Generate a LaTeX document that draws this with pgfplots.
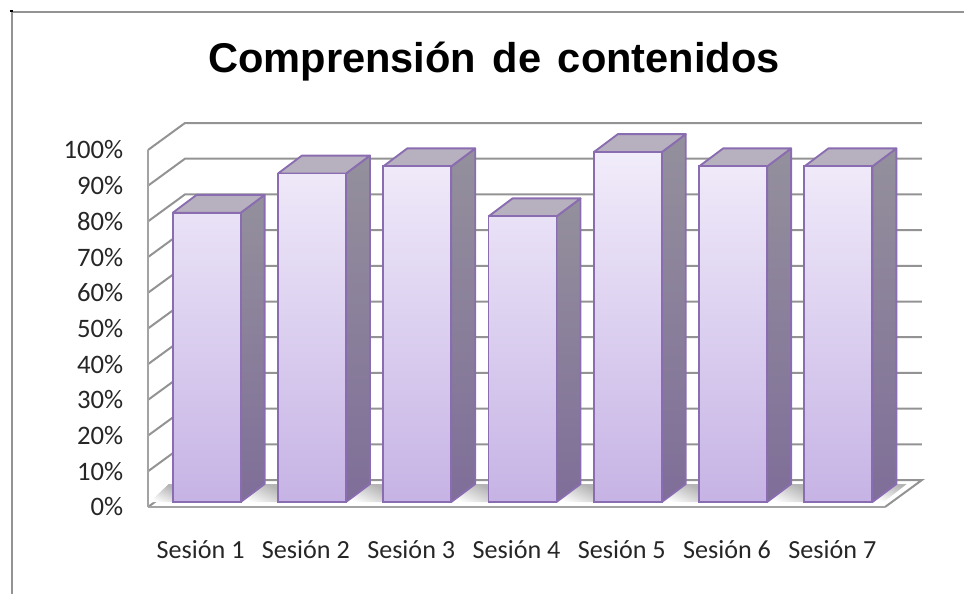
\documentclass[border=0pt]{standalone}
\usepackage{fontspec}
\setmainfont{Carlito}
\newfontfamily\titlefont{Liberation Sans}
\usepackage{pgfplots}
\pgfplotsset{compat=1.18}

\definecolor{wall}{HTML}{939393}
\definecolor{base}{HTML}{A3A3A3}
\definecolor{edge}{HTML}{8A6DB0}
\definecolor{fronttop}{HTML}{F1ECFA}
\definecolor{frontbot}{HTML}{C6B3E5}
\definecolor{sidetop}{HTML}{94909C}
\definecolor{sidebot}{HTML}{7F6E99}
\definecolor{topface}{HTML}{B7B0BE}
\definecolor{shadow}{HTML}{B4B4B4}

% 1 px of the reference = 0.75pt, 1 category = 105.3 px, 1% = 3.57 px
\pgfplotsset{
  chart/.style={
    scale only axis, width=552.75pt, height=267.75pt,
    xmin=0.5, xmax=7.5, ymin=0, ymax=100,
    clip=false,
  },
}

% side and top face of one bar: category, value
\newcommand{\barfaces}[2]{%
  \pgfmathsetmacro\xr{#1+0.323}%
  \pgfmathsetmacro\xl{#1-0.323}%
  \pgfmathsetmacro\xrb{\xr+0.228}%
  \pgfmathsetmacro\xlb{\xl+0.228}%
  \pgfmathsetmacro\yt{#2+5.04}%
  \addplot[draw=edge, line width=1.4pt, line join=round, top color=sidetop, bottom color=sidebot]
    coordinates {(\xr,0) (\xrb,5.04) (\xrb,\yt) (\xr,#2) (\xr,0)};
  \addplot[draw=edge, line width=1.4pt, line join=round, fill=topface]
    coordinates {(\xl,#2) (\xlb,\yt) (\xrb,\yt) (\xr,#2) (\xl,#2)};
}

% floor shadow to the right of a bar: category
\newcommand{\floorshadow}[1]{%
  \pgfmathsetmacro\xr{#1+0.323}%
  \pgfmathsetmacro\xrb{\xr+0.228}%
  \pgfmathsetmacro\xn{#1+1-0.323}%
  \addplot[draw=none, top color=shadow, bottom color=white, shading angle=-25]
    coordinates {(\xr,0) (\xrb,5.04) (\xn,5.04) (\xn,0) (\xr,0)};
}

\begin{document}
\begin{tikzpicture}
\path[use as bounding box] (-111pt,-65.25pt) rectangle ++(723pt,445.5pt);

\begin{axis}[
  chart,
  axis line style={draw=none},
  tick style={draw=none},
  axis x line*=bottom,
  axis y line*=left,
  title={\titlefont\bfseries Comprensión\hspace{0.12em} de\hspace{0.12em} contenidos},
  title style={at={(rel axis cs:0.4695,1.226)}, anchor=center, font=\fontsize{31.2}{34}\selectfont},
  xtick={1,2,3,4,5,6,7},
  xticklabels={Sesión 1,Sesión 2,Sesión 3,Sesión 4,Sesión 5,Sesión 6,Sesión 7},
  xticklabel style={yshift=-21.5pt, text=black!85, font=\fontsize{19.6}{22}\selectfont},
  ytick={0,10,...,100},
  yticklabel={\pgfmathprintnumber{\tick}\%},
  /pgf/number format/assume math mode=true,
  yticklabel style={xshift=-15pt, text=black!85, font=\fontsize{20}{22}\selectfont},
]
% walls
\pgfplotsinvokeforeach{10,20,...,100}{
  \pgfmathsetmacro\yb{#1+7.56}
  \addplot[wall, line width=1.5pt] coordinates {(0.5,#1) (0.851,\yb) (7.851,\yb)};
}
\addplot[wall, line width=1.5pt] coordinates {(7.5,0) (7.851,7.56) (0.851,7.56) (0.5,0)};
\addplot[base, line width=1.5pt] coordinates {(0.5,100) (0.5,0)};
\addplot[base, line width=2.2pt] coordinates {(0.5,0) (7.5,0)};
\end{axis}

\begin{axis}[chart, at={(4.5pt,3.75pt)}, hide axis]
% shadows on the floor
\addplot[draw=none, top color=shadow, bottom color=white, shading angle=-25]
  coordinates {(0.46,0) (0.677,0) (0.677,5.04) (0.64,5.04) (0.46,0)};
\floorshadow{1}
\floorshadow{2}
\floorshadow{3}
\floorshadow{4}
\floorshadow{5}
\floorshadow{6}
\addplot[draw=none, top color=shadow, bottom color=white, shading angle=-25]
  coordinates {(7.323,0) (7.551,5.04) (7.65,5.04) (7.43,0) (7.323,0)};
% bars
\barfaces{1}{81}
\barfaces{2}{92}
\barfaces{3}{94}
\barfaces{4}{80}
\barfaces{5}{98}
\barfaces{6}{94}
\barfaces{7}{94}
\addplot[ybar, bar width=0.646, draw=edge, line width=1.4pt, top color=fronttop, bottom color=frontbot]
  coordinates {(1,81) (2,92) (3,94) (4,80) (5,98) (6,94) (7,94)};
\end{axis}

% frame of the chart area
\draw[wall, line width=1.6pt] (-102pt,-65.25pt) -- (-102pt,371.5pt) -- (612pt,371.5pt);
\fill[black] (-103.2pt,371pt) rectangle ++(2pt,2pt);
\end{tikzpicture}
\end{document}
